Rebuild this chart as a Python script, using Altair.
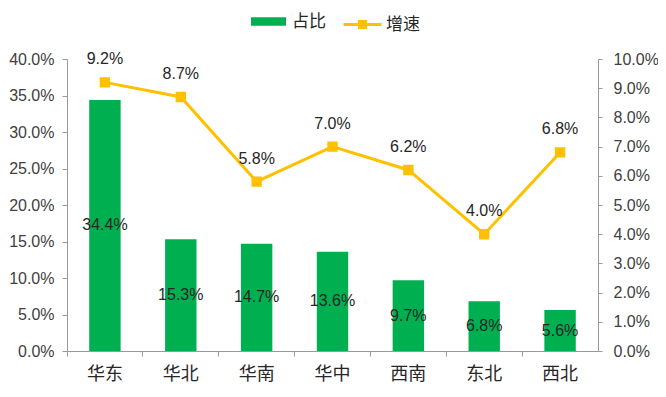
import altair as alt
import pandas as pd

regions = ['华东', '华北', '华南', '华中', '西南', '东北', '西北']
share = [34.4, 15.3, 14.7, 13.6, 9.7, 6.8, 5.6]
growth = [9.2, 8.7, 5.8, 7.0, 6.2, 4.0, 6.8]
left_ticks = [0, 0.05, 0.10, 0.15, 0.20, 0.25, 0.30, 0.35, 0.40]
right_ticks = [i / 100 for i in range(0, 11)]

GREEN = '#00B050'
YELLOW = '#FFC000'
FONT = 'Liberation Sans'
CJK = 'Noto Sans CJK SC'
AX = '#999999'
LAB = '#404040'
DARK = '#262626'

df = pd.DataFrame({
    'region': regions,
    'share': [v / 100 for v in share],
    'growth': [v / 100 for v in growth],
    's1': '占比',
    's2': '增速',
})

x = alt.X('region:N', sort=regions, title=None,
          scale=alt.Scale(paddingInner=0, paddingOuter=0),
          axis=alt.Axis(labelAngle=0, labelFont=CJK, labelFontSize=18, labelColor=DARK,
                        domainColor=AX, tickColor=AX, tickSize=5, bandPosition=0,
                        labelPadding=9, grid=False))

left_axis = alt.Axis(orient='left', values=left_ticks, format='.1%', title=None,
                     labelFont=FONT, labelFontSize=16, labelColor=LAB,
                     domainColor=AX, tickColor=AX, tickSize=5, labelPadding=8,
                     grid=False)
right_axis = alt.Axis(orient='right', values=right_ticks, format='.1%', title=None,
                      labelFont=FONT, labelFontSize=16, labelColor=LAB,
                      domainColor=AX, tickColor=AX, tickSize=4, labelPadding=11,
                      grid=False)
left_scale = alt.Scale(domain=[0, 0.4], nice=False)
right_scale = alt.Scale(domain=[0, 0.1], nice=False)

base = alt.Chart(df).encode(x=x)

bars = base.mark_bar(color=GREEN, width=alt.RelativeBandSize(0.414)).encode(
    y=alt.Y('share:Q', scale=left_scale, axis=left_axis),
    fill=alt.Fill('s1:N', scale=alt.Scale(domain=['占比'], range=[GREEN]),
                  legend=alt.Legend(orient='none', legendX=184, legendY=-55, title=None,
                                    labelFont=CJK, labelFontSize=17, labelColor=DARK,
                                    symbolType='M-1,-0.24H1V0.24H-1Z', symbolSize=1225,
                                    symbolStrokeWidth=0, labelOffset=6, padding=0)),
)

bar_text = base.mark_text(font=FONT, fontSize=16, color=DARK).encode(
    y=alt.Y('mid:Q', scale=left_scale, axis=left_axis),
    text=alt.Text('share:Q', format='.1%'),
).transform_calculate(mid='datum.share / 2')

line = base.mark_line(color=YELLOW, strokeWidth=3,
                      point=alt.OverlayMarkDef(shape='square', size=70, filled=True,
                                               color=YELLOW)).encode(
    y=alt.Y('growth:Q', scale=right_scale, axis=right_axis),
    stroke=alt.Stroke('s2:N', scale=alt.Scale(domain=['增速'], range=[YELLOW]),
                      legend=alt.Legend(orient='none', legendX=275, legendY=-55, title=None,
                                        labelFont=CJK, labelFontSize=17, labelColor=DARK,
                                        symbolType='M-1,0H1M-0.16,-0.16H0.16V0.16H-0.16Z',
                                        symbolSize=1444, symbolStrokeWidth=3,
                                        symbolFillColor=YELLOW, labelOffset=3, padding=0)),
)

line_text = base.mark_text(font=FONT, fontSize=16, color=DARK, dy=-23).encode(
    y=alt.Y('growth:Q', scale=right_scale, axis=right_axis),
    text=alt.Text('growth:Q', format='.1%'),
)

left = alt.layer(bars, bar_text)
right = alt.layer(line, line_text)

chart = alt.layer(left, right).resolve_scale(y='independent').properties(
    width=531, height=292,
    autosize=alt.AutoSizeParams(type='none'),
    padding={'left': 59, 'top': 51, 'right': 60, 'bottom': 38},
).configure_view(stroke=None)

chart.save('out.html', embed_options={'renderer': 'svg', 'actions': False})
